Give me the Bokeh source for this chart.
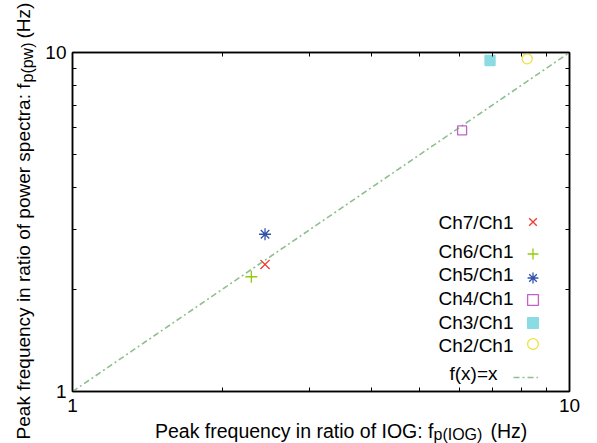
import math
from bokeh.plotting import figure
from bokeh.layouts import row, column
from bokeh.models import (LogAxis, FixedTicker, Label, Legend, LegendItem,
                          Range1d, BasicTickFormatter)
from bokeh.core.properties import value
from bokeh.embed import file_html
from bokeh.resources import INLINE

# ---- data ----
series = ["Ch7/Ch1", "Ch6/Ch1", "Ch5/Ch1", "Ch4/Ch1", "Ch3/Ch1", "Ch2/Ch1"]
fp_iog = [2.44, 2.29, 2.44, 6.08, 6.92, 8.22]
fp_pw = [2.37, 2.18, 2.91, 5.89, 9.47, 9.58]
identity_x = [1, 10]
identity_y = [1, 10]
major_ticks = [1, 10]
minor_ticks = [2, 3, 4, 5, 6, 7, 8, 9]
x_label = ["Peak frequency in ratio of IOG: f", "p(IOG)", "(Hz)"]
y_label = ["Peak frequency in ratio of power spectra: f", "p(pw)", "(Hz)"]
line_label = "f(x)=x"

# ---- styles ----
markers = ["x", "cross", "asterisk", "square", "square", "circle"]
colors = ["#ee3a2c", "#92cc08", "#3552aa", "#c262c6", "#8adbe2", "#f0e040"]
filled = [False, False, False, False, True, False]
sizes = [13, 12, 12, 9, 10, 10]
line_color = "#8fbf8f"
FONT = "Liberation Sans"

W, H = 597, 443
YW = 40          # width of the strip holding the y title
XH = 22          # height of the strip holding the x title
FL, FR, FT, FB = 72, 569, 52, 391   # frame edges in page pixels


def sx(cx):
    return cx - FL


def sy(cy):
    return FB - cy


def blank_fig(w, h):
    f = figure(width=w, height=h, x_range=Range1d(0, 1), y_range=Range1d(0, 1),
               output_backend="svg", toolbar_location=None,
               x_axis_location=None, y_axis_location=None,
               min_border=0, min_border_left=0, min_border_right=0,
               min_border_top=0, min_border_bottom=0)
    f.grid.visible = False
    f.outline_line_color = None
    f.background_fill_color = "white"
    f.border_fill_color = "white"
    return f


p = figure(width=W - YW, height=H - XH, x_axis_type="log", y_axis_type="log",
           x_range=Range1d(1, 10), y_range=Range1d(1, 10),
           output_backend="svg", toolbar_location=None,
           min_border_left=FL - YW, min_border_right=W - FR,
           min_border_top=FT, min_border_bottom=H - XH - FB)
p.grid.visible = False
p.outline_line_color = "black"
p.outline_line_width = 1.5
p.background_fill_color = "white"
p.border_fill_color = "white"


def style_axis(ax, standoff=6):
    ax.axis_line_color = "black"
    ax.axis_line_width = 1.5
    ax.major_tick_in = 8
    ax.major_tick_out = 0
    ax.minor_tick_in = 4
    ax.minor_tick_out = 0
    ax.major_tick_line_color = "black"
    ax.minor_tick_line_color = "black"
    ax.major_label_text_font = FONT
    ax.major_label_text_font_size = "19px"
    ax.major_label_text_color = "black"
    ax.major_label_standoff = standoff


for ax in p.xaxis:
    ax.ticker = FixedTicker(ticks=major_ticks, minor_ticks=minor_ticks)
    ax.formatter = BasicTickFormatter()
    style_axis(ax, standoff=7)
for ax in p.yaxis:
    ax.ticker = FixedTicker(ticks=major_ticks, minor_ticks=minor_ticks)
    ax.formatter = BasicTickFormatter()
    style_axis(ax, standoff=6)

top = LogAxis(ticker=FixedTicker(ticks=[], minor_ticks=minor_ticks))
right = LogAxis(ticker=FixedTicker(ticks=[], minor_ticks=minor_ticks))
for ax in (top, right):
    style_axis(ax)
    ax.major_label_text_font_size = "0px"
p.add_layout(top, "above")
p.add_layout(right, "right")

# identity line
line_r = p.line(identity_x, identity_y, line_color=line_color, line_width=1.6,
                line_dash="6 3 2 3")

# data points
renderers = []
for i in range(len(series)):
    r = p.scatter([fp_iog[i]], [fp_pw[i]], marker=markers[i], size=sizes[i],
                  line_color=colors[i], line_width=1.3,
                  fill_color=colors[i] if filled[i] else None)
    renderers.append(r)

# ---- custom legend (label left, symbol right) ----
glyph_cy = [221, 253, 277, 299, 322, 343]
text_cy = [222, 251, 274, 298, 322, 345]
G = 27
for i, r in enumerate(renderers):
    lg = Legend(items=[LegendItem(label=value(" "), renderers=[r])],
                location=(sx(532 - G / 2), sy(glyph_cy[i] + G / 2)),
                glyph_width=G, glyph_height=G, padding=0, margin=0, spacing=0,
                label_standoff=0, label_width=0, label_height=0,
                label_text_font_size="1px", border_line_color=None,
                background_fill_alpha=0)
    p.add_layout(lg)
    p.add_layout(Label(x=sx(513), y=sy(text_cy[i]), x_units="screen", y_units="screen",
                       text=series[i], text_align="right", text_baseline="middle",
                       text_font=FONT, text_font_size="19px", text_color="black"))

lg = Legend(items=[LegendItem(label=value(" "), renderers=[line_r])],
            location=(sx(513), sy(377 + 5)),
            glyph_width=25, glyph_height=10, padding=0, margin=0, spacing=0,
            label_standoff=0, label_width=0, label_height=0,
            label_text_font_size="1px", border_line_color=None,
            background_fill_alpha=0)
p.add_layout(lg)
p.add_layout(Label(x=sx(497), y=sy(373), x_units="screen", y_units="screen",
                   text=line_label, text_align="right", text_baseline="middle",
                   text_font=FONT, text_font_size="19px", text_color="black"))

# ---- x title strip (its frame lines up with the main frame's left edge) ----
xt = blank_fig(W - YW, XH)


def xs(cx):
    return cx - FL


def xsy(cy):
    return H - cy


xt.add_layout(Label(x=xs(433), y=xsy(430), x_units="screen", y_units="screen",
                    text=x_label[0], text_align="right", text_baseline="middle",
                    text_font=FONT, text_font_size="19.5px", text_color="black"))
xt.add_layout(Label(x=xs(433), y=xsy(434), x_units="screen", y_units="screen",
                    text=x_label[1], text_align="left", text_baseline="middle",
                    text_font=FONT, text_font_size="16px", text_color="black"))
xt.add_layout(Label(x=xs(490), y=xsy(430), x_units="screen", y_units="screen",
                    text=x_label[2], text_align="left", text_baseline="middle",
                    text_font=FONT, text_font_size="19.5px", text_color="black"))

# ---- y title strip (page x 0..YW, full height) ----
yt = blank_fig(YW, H)


def ysy(cy):
    return H - cy


yt.add_layout(Label(x=23, y=ysy(83), x_units="screen", y_units="screen",
                    text=y_label[0], text_align="right", text_baseline="middle",
                    angle=math.pi / 2,
                    text_font=FONT, text_font_size="19px", text_color="black"))
yt.add_layout(Label(x=27, y=ysy(82), x_units="screen", y_units="screen",
                    text=y_label[1], text_align="left", text_baseline="middle",
                    angle=math.pi / 2,
                    text_font=FONT, text_font_size="16px", text_color="black"))
yt.add_layout(Label(x=23, y=ysy(38), x_units="screen", y_units="screen",
                    text=y_label[2], text_align="left", text_baseline="middle",
                    angle=math.pi / 2,
                    text_font=FONT, text_font_size="19px", text_color="black"))

layout = row(yt, column(p, xt, spacing=0), spacing=0)
open("out.html", "w").write(file_html(layout, INLINE))
